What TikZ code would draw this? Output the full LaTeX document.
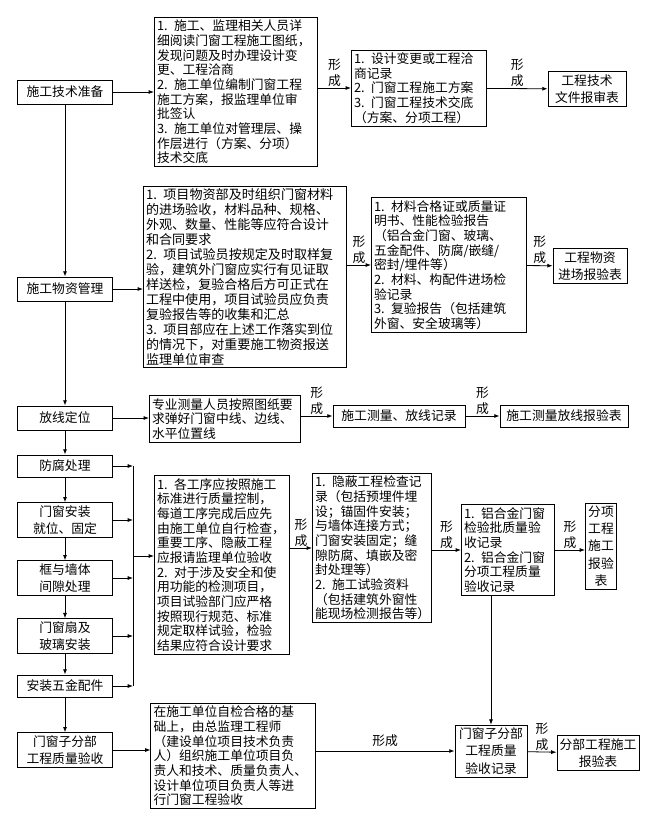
\documentclass[tikz,border=0pt]{standalone}
\usepackage{fontspec}
\setmainfont{Noto Sans CJK SC}
\usetikzlibrary{arrows.meta}
\begin{document}
\begin{tikzpicture}[x=0.75pt,y=-0.75pt,
  box/.style={draw,line width=0.6pt,inner sep=2pt,align=left,font=\fontsize{9.6}{11}\selectfont},
  cbox/.style={draw,line width=0.6pt,inner sep=2pt,align=center,font=\fontsize{9.6}{13}\selectfont},
  arr/.style={-{Latex[length=4pt,width=3pt]},line width=0.6pt},
  lbl/.style={font=\fontsize{9.6}{12}\selectfont,align=center,inner sep=1pt}]
\useasboundingbox (0,0) rectangle (658,819);
% row 1
\node[cbox,minimum width=95*0.75pt,minimum height=24*0.75pt] (a1) at (65,92) {施工技术准备};
\node[box,text width=158*0.75pt] (b1) at (236,92) {1. 施工、监理相关人员详\\细阅读门窗工程施工图纸，\\发现问题及时办理设计变\\更、工程洽商\\2. 施工单位编制门窗工程\\施工方案，报监理单位审\\批签认\\3. 施工单位对管理层、操\\作层进行（方案、分项）\\技术交底};
\node[box,text width=130*0.75pt] (c1) at (419,88) {1. 设计变更或工程洽\\商记录\\2. 门窗工程施工方案\\3. 门窗工程技术交底\\（方案、分项工程）};
\node[cbox,minimum width=78*0.75pt] (d1) at (587,89) {工程技术\\文件报审表};
% row 2
\node[cbox,minimum width=95*0.75pt,minimum height=24*0.75pt] (a2) at (65,289) {施工物资管理};
\node[box,text width=198*0.75pt,font=\fontsize{9.8}{11.2}\selectfont] (b2) at (245,277) {1. 项目物资部及时组织门窗材料\\的进场验收，材料品种、规格、\\外观、数量、性能等应符合设计\\和合同要求\\2. 项目试验员按规定及时取样复\\验，建筑外门窗应实行有见证取\\样送检，复验合格后方可正式在\\工程中使用，项目试验员应负责\\复验报告等的收集和汇总\\3. 项目部应在上述工作落实到位\\的情况下，对重要施工物资报送\\监理单位审查};
\node[box,text width=150*0.75pt] (c2) at (449,265) {1. 材料合格证或质量证\\明书、性能检验报告\\（铝合金门窗、玻璃、\\五金配件、防腐/嵌缝/\\密封/埋件等）\\2. 材料、构配件进场检\\验记录\\3. 复验报告（包括建筑\\外窗、安全玻璃等）};
\node[cbox,minimum width=74*0.75pt] (d2) at (590,266) {工程物资\\进场报验表};
% row 3
\node[cbox,minimum width=95*0.75pt,minimum height=24*0.75pt] (a3) at (65,418) {放线定位};
\node[box,text width=146*0.75pt] (b3) at (225,419) {专业测量人员按照图纸要\\求弹好门窗中线、边线、\\水平位置线};
\node[cbox,minimum width=132*0.75pt,minimum height=22*0.75pt] (c3) at (399,416) {施工测量、放线记录};
\node[cbox,minimum width=128*0.75pt,minimum height=22*0.75pt] (d3) at (564,416) {施工测量放线报验表};
% steps
\node[cbox,minimum width=95*0.75pt,minimum height=22*0.75pt] (s1) at (65,466) {防腐处理};
\node[cbox,minimum width=95*0.75pt] (s2) at (65,520) {门窗安装\\就位、固定};
\node[cbox,minimum width=95*0.75pt] (s3) at (65,578) {框与墙体\\间隙处理};
\node[cbox,minimum width=95*0.75pt] (s4) at (65,636) {门窗扇及\\玻璃安装};
\node[cbox,minimum width=95*0.75pt,minimum height=22*0.75pt] (s5) at (65,686) {安装五金配件};
\node[cbox,minimum width=95*0.75pt] (s6) at (65,750) {门窗子分部\\工程质量验收};
\node[box,text width=130*0.75pt] (b4) at (222,565) {1. 各工序应按照施工\\标准进行质量控制，\\每道工序完成后应先\\由施工单位自行检查，\\重要工序、隐蔽工程\\应报请监理单位验收\\2. 对于涉及安全和使\\用功能的检测项目，\\项目试验部门应严格\\按照现行规范、标准\\规定取样试验，检验\\结果应符合设计要求};
\node[box,text width=114*0.75pt] (b5) at (372,548) {1. 隐蔽工程检查记\\录（包括预埋件埋\\设；锚固件安装；\\与墙体连接方式；\\门窗安装固定；缝\\隙防腐、填嵌及密\\封处理等）\\2. 施工试验资料\\（包括建筑外窗性\\能现场检测报告等）};
\node[box,text width=88*0.75pt] (c5) at (508,550) {1. 铝合金门窗\\检验批质量验\\收记录\\2. 铝合金门窗\\分项工程质量\\验收记录};
\node[cbox,text width=26*0.75pt] (d5) at (601,546) {分项\\工程\\施工\\报验\\表};
% bottom
\node[box,text width=159*0.75pt] (e2) at (233,756) {在施工单位自检合格的基\\础上，由总监理工程师\\（建设单位项目技术负责\\人）组织施工单位项目负\\责人和技术、质量负责人、\\设计单位项目负责人等进\\行门窗工程验收};
\node[cbox,minimum width=72*0.75pt] (e3) at (491,751) {门窗子分部\\工程质量\\验收记录};
\node[cbox,minimum width=80*0.75pt] (e4) at (598,753) {分部工程施工\\报验表};
% main vertical
\draw[arr] (a1) -- (a2);
\draw[arr] (a2) -- (a3);
\draw[arr] (a3) -- (s1);
\draw[arr] (s1) -- (s2);
\draw[arr] (s2) -- (s3);
\draw[arr] (s3) -- (s4);
\draw[arr] (s4) -- (s5);
\draw[arr] (s5) -- (s6);
% row arrows
\draw[arr] (a1) -- (a1 -| b1.west);
\draw[arr] (b1.east |- c1) -- node[lbl,above]{形\\成} (c1);
\draw[arr] (c1) -- node[lbl,above]{形\\成} (d1);
\draw[arr] (a2) -- (a2 -| b2.west);
\draw[arr] (b2.east |- c2) -- node[lbl,above]{形\\成} (c2);
\draw[arr] (c2) -- node[lbl,above]{形\\成} (d2);
\draw[arr] (a3) -- (a3 -| b3.west);
\draw[arr] (b3.east |- c3) -- node[lbl,above]{形\\成} (c3);
\draw[arr] (c3) -- node[lbl,above]{形\\成} (d3);
% bus
\coordinate (bus1) at (133,466);
\coordinate (bus5) at (133,686);
\draw[line width=0.6pt] (bus1) -- (bus5);
\draw[arr] (s1) -- (bus1);
\draw[arr] (s2) -- (s2 -| bus1);
\draw[arr] (s3) -- (s3 -| bus1);
\draw[arr] (s4) -- (s4 -| bus1);
\draw[arr] (s5) -- (bus5);
\draw[arr] (133,556) -- (b4.west |- 0,556);
\draw[arr] (b4.east |- b5) -- node[lbl,above]{形\\成} (b5);
\draw[arr] (b5.east |- c5) -- node[lbl,above]{形\\成} (c5);
\draw[arr] (c5) -- node[lbl,above]{形\\成} (d5.west |- c5);
\draw[arr] (c5.south -| e3) -- (e3);
\draw[arr] (s6) -- (s6 -| e2.west);
\draw[arr] (e2.east |- e3) -- node[lbl,above,yshift=2pt]{形成} (e3);
\draw[arr] (e3) -- node[lbl,above]{形\\成} (e4);
\end{tikzpicture}
\end{document}
